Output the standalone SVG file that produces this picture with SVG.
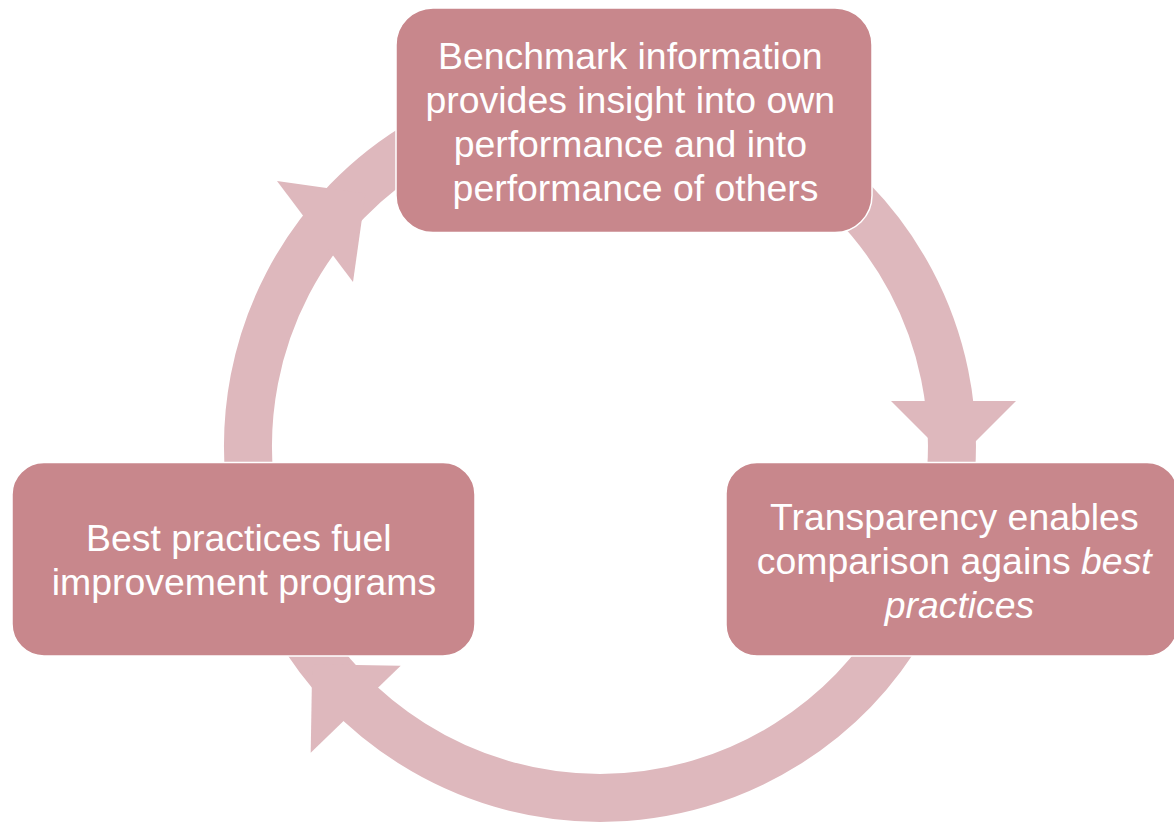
<svg xmlns="http://www.w3.org/2000/svg" width="1174" height="822" viewBox="0 0 1174 822">
  <style>
    .ring { fill: none; stroke: #DEB8BD; stroke-width: 48; stroke-linecap: butt; }
    .head { fill: #DEB8BD; stroke: none; }
    .box { fill: #C8878C; stroke: #FFFFFF; stroke-width: 1.5; }
    .lbl { font-family: "Liberation Sans", Arial, sans-serif; font-size: 37.4px; fill: #FFFFFF; text-anchor: middle; }
    .it { font-style: italic; }
  </style>
  <rect x="0" y="0" width="1174" height="822" fill="#FFFFFF"/>
  <g id="connectors">
    <!-- top -> right -->
    <path class="ring" d="M 776 141.2 A 352 352 0 0 1 951.1 470.6"/>
    <polygon class="head" points="891,401 1016,401 953.5,463.5"/>
    <!-- right -> left (bottom) -->
    <path class="ring" d="M 904.8 622 A 352 352 0 0 1 295.2 622"/>
    <polygon class="head" points="310.7,752.7 400.7,665.7 312.2,664.2"/>
    <!-- left -> top -->
    <path class="ring" d="M 249.3 476.7 A 352 352 0 0 1 424 141.2"/>
    <polygon class="head" points="277,181 353,282 365.5,193.5"/>
  </g>
  <g id="node-top">
    <rect class="box" x="396" y="8" width="476" height="224.5" rx="37" ry="37"/>
    <text class="lbl">
      <tspan x="635.5" y="68.5">Benchmark information</tspan>
      <tspan x="635.5" y="112.8">provides insight into own</tspan>
      <tspan x="635.5" y="157.1">performance and into</tspan>
      <tspan x="635.5" y="201.4">performance of others</tspan>
    </text>
  </g>
  <g id="node-right">
    <rect class="box" x="726" y="462.5" width="452" height="193.5" rx="31" ry="31"/>
    <text class="lbl">
      <tspan x="959.5" y="529.5">Transparency enables</tspan>
      <tspan x="959.5" y="573.8">comparison agains <tspan class="it">best</tspan></tspan>
      <tspan x="959.5" y="618.1" class="it">practices</tspan>
    </text>
  </g>
  <g id="node-left">
    <rect class="box" x="12" y="462.5" width="463" height="193.5" rx="32" ry="32"/>
    <text class="lbl">
      <tspan x="244" y="550.5">Best practices fuel</tspan>
      <tspan x="244" y="595">improvement programs</tspan>
    </text>
  </g>
</svg>
